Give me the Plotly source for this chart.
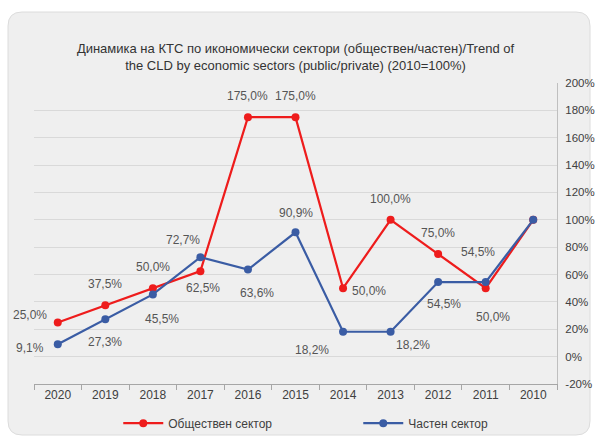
import plotly.graph_objects as go

years = ["2020", "2019", "2018", "2017", "2016", "2015", "2014", "2013", "2012", "2011", "2010"]
public = [25.0, 37.5, 50.0, 62.5, 175.0, 175.0, 50.0, 100.0, 75.0, 50.0, 100.0]
private = [9.1, 27.3, 45.5, 72.7, 63.6, 90.9, 18.2, 18.2, 54.5, 54.5, 100.0]
public_name = "Обществен сектор"
private_name = "Частен сектор"
title_text = "Динамика на КТС по икономически сектори (обществен/частен)/Trend of<br>the CLD by economic sectors (public/private) (2010=100%)"
y_ticks = [-20, 0, 20, 40, 60, 80, 100, 120, 140, 160, 180, 200]
y_ticklabels = ["-20%", "0%", "20%", "40%", "60%", "80%", "100%", "120%", "140%", "160%", "180%", "200%"]

# label offsets (pixels) - style only; None = no label
public_off = [(-28, 7), (0, 21), (0, 21), (3, -17), (0, 21), (0, 21), (26, -3), (0, 21), (0, 21), (7, -29), None]
private_off = [(-28, -4), (0, -23), (9, -25), (-17, 17), (9, -23), (0, 19), (-31, -18), (22, -13), (6, -22), (-8, 30), None]

RED = "#ee1c1c"
BLUE = "#3a5ca4"
FONT = "Liberation Sans Narrow, Arial Narrow, Liberation Sans, sans-serif"

fig = go.Figure()
fig.add_trace(go.Scatter(x=years, y=public, name=public_name, mode="lines+markers",
                         line=dict(color=RED, width=2.2), marker=dict(color=RED, size=8)))
fig.add_trace(go.Scatter(x=years, y=private, name=private_name, mode="lines+markers",
                         line=dict(color=BLUE, width=2.2), marker=dict(color=BLUE, size=8)))


def fmt(v):
    return f"{v:.1f}".replace(".", ",") + "%"


for vals, offs in ((public, public_off), (private, private_off)):
    for i, (v, o) in enumerate(zip(vals, offs)):
        if o is None:
            continue
        fig.add_annotation(x=i, y=v, xref="x", yref="y", text=fmt(v), showarrow=False,
                           xshift=o[0], yshift=o[1],
                           font=dict(size=12, color="#555555", family=FONT))

# rounded background panel
L, R, T, B = 34, 557, 83, 384
W, H = R - L, B - T


def px(p):
    return (p - L) / W


def py(p):
    return (B - p) / H


x0, x1, y0, y1 = px(8), px(590), py(435), py(12)
rx, ry = 14 / W, 14 / H
path = (f"M {x0+rx},{y1} L {x1-rx},{y1} Q {x1},{y1} {x1},{y1-ry} L {x1},{y0+ry} Q {x1},{y0} {x1-rx},{y0} "
        f"L {x0+rx},{y0} Q {x0},{y0} {x0},{y0+ry} L {x0},{y1-ry} Q {x0},{y1} {x0+rx},{y1} Z")
fig.add_shape(type="path", path=path, xref="paper", yref="paper", layer="below",
              fillcolor="#efefef", line=dict(color="#dcdcdc", width=1))

fig.update_layout(
    width=596, height=437,
    margin=dict(l=L, r=596 - R, t=T, b=437 - B, autoexpand=False),
    paper_bgcolor="white",
    plot_bgcolor="rgba(255,255,255,0.8)",
    font=dict(family=FONT, color="#404040", size=12),
    title=dict(text=title_text, x=0.5, xref="paper", xanchor="center", y=1 - 53 / 437, yanchor="middle",
               font=dict(size=13, color="#333333", family=FONT)),
    showlegend=True,
    legend=dict(orientation="h", x=0.62, xanchor="center", y=-0.13, yanchor="middle",
                font=dict(size=12, color="#404040", family=FONT), bgcolor="rgba(0,0,0,0)",
                entrywidth=185, itemwidth=40),
    xaxis=dict(type="category", showgrid=False, showline=True, linecolor="#a6a6a6", linewidth=1,
               ticks="outside", tickson="boundaries", ticklen=5, tickcolor="#a6a6a6",
               tickfont=dict(size=12, color="#404040", family=FONT), range=[-0.5, 10.5]),
    yaxis=dict(side="right", range=[-20, 200], tickvals=y_ticks, ticktext=y_ticklabels,
               showgrid=True, gridcolor="#d9d9d9", gridwidth=1, zeroline=False,
               showline=True, linecolor="#bfbfbf", ticks="", ticklabelstandoff=5,
               tickfont=dict(size=11.5, color="#404040", family=FONT)),
)

fig.write_html("out.html", config={"displayModeBar": False},
               post_script="document.body.style.margin='0';document.body.style.padding='0';")
